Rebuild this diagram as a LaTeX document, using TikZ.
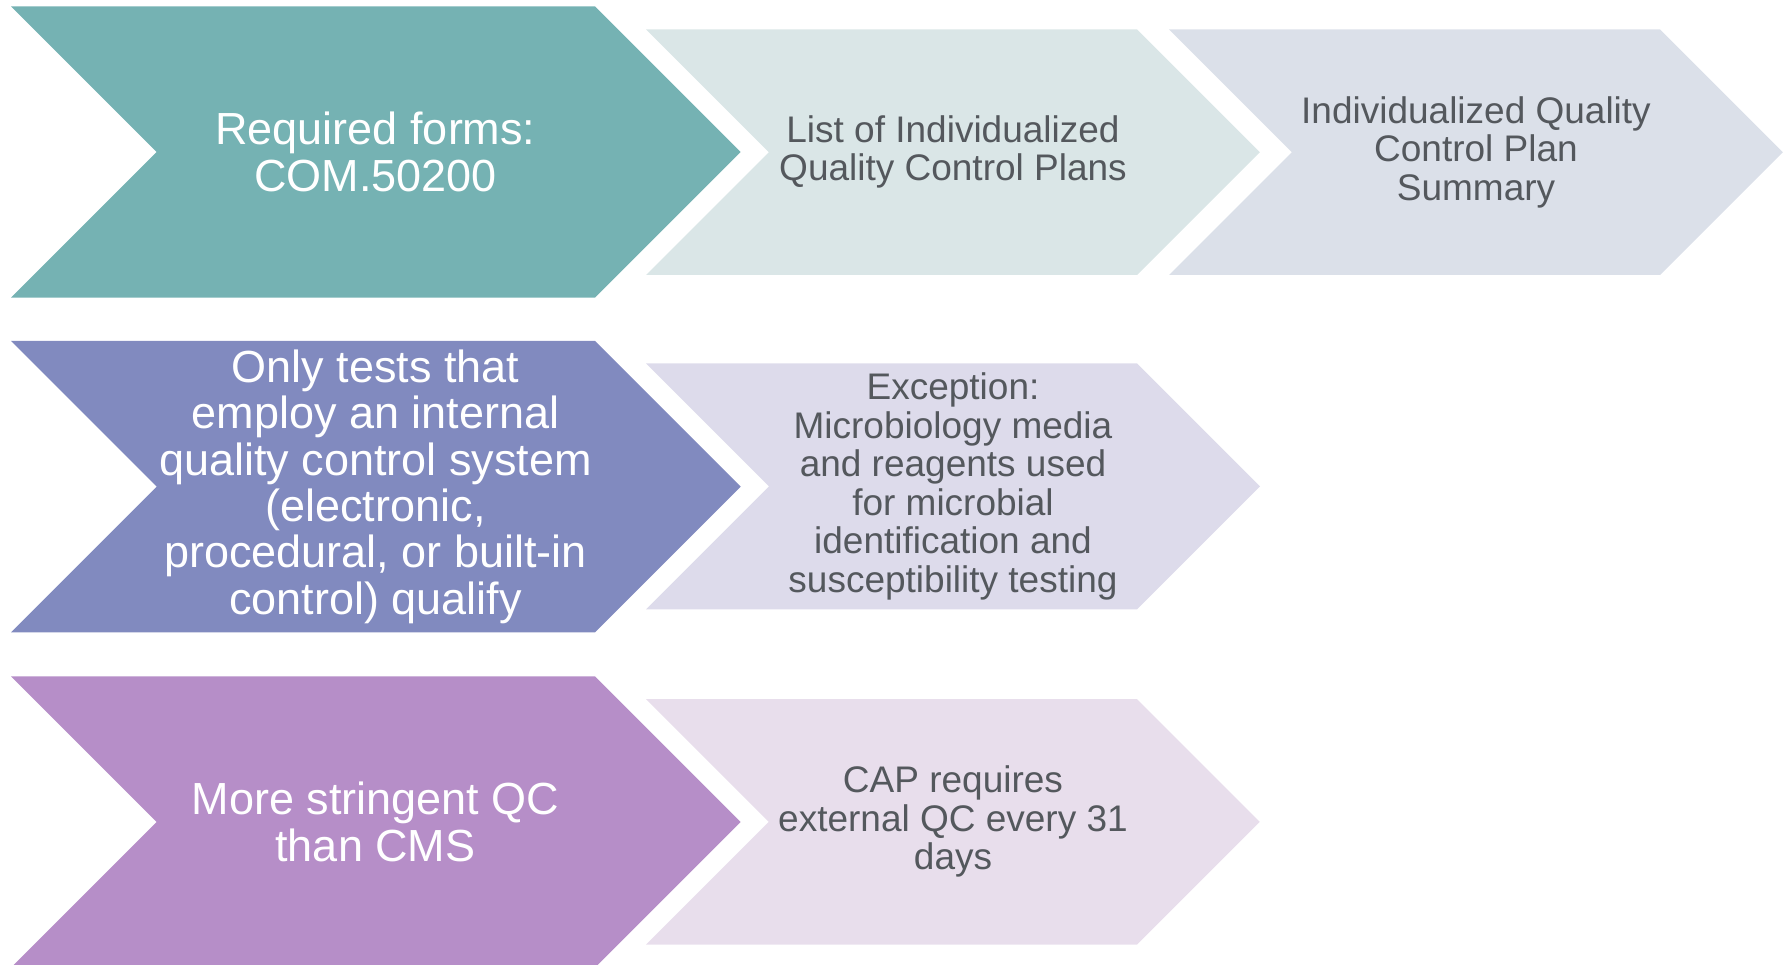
\documentclass[tikz,border=0pt]{standalone}
\usepackage{fontspec}
\setmainfont{Liberation Sans}
\definecolor{tealA}{HTML}{75B2B3}
\definecolor{tealB}{HTML}{DAE6E7}
\definecolor{tealC}{HTML}{DBE0E9}
\definecolor{blueA}{HTML}{818ABF}
\definecolor{blueB}{HTML}{DDDBEB}
\definecolor{plumA}{HTML}{B68EC8}
\definecolor{plumB}{HTML}{E8DEEC}
\definecolor{txtgray}{HTML}{54585D}
% chevron: left x, middle y, half height, right x of body, colour
\newcommand{\chev}[5]{\fill[#5] (#1,#2-#3) -- (#4,#2-#3) -- (#4+#3,#2) -- (#4,#2+#3) -- (#1,#2+#3) -- (#1+#3,#2) -- cycle;}

\begin{document}
\begin{tikzpicture}[x=1pt, y=-1pt,
  bigtxt/.style = {align=center, inner sep=0pt, text=white, font=\fontsize{45}{46.3}\selectfont},
  smalltxt/.style = {align=center, inner sep=0pt, text=txtgray, font=\fontsize{37}{38.5}\selectfont}]
\useasboundingbox (0,0) rectangle (1789,965);
% row 1
\chev{11}{152}{145.7}{595}{tealA}
\chev{646}{152.2}{122.8}{1137}{tealB}
\chev{1169}{152.2}{122.8}{1660}{tealC}
\node[bigtxt] (forms) at (375.5,152) {Required forms:\\COM.50200};
\node[smalltxt] (list) at (953,152) {List of Individualized\\Quality Control Plans};
\node[smalltxt] (summary) at (1476,152) {Individualized Quality\\Control Plan\\Summary};
% row 2
\chev{11}{486.7}{145.7}{595}{blueA}
\chev{646}{486.3}{123}{1137}{blueB}
\node[bigtxt] (tests) at (375.5,486.7) {Only tests that\\employ an internal\\quality control system\\(electronic,\\procedural, or built-in\\control) qualify};
\node[smalltxt] (except) at (953,486.3) {Exception:\\Microbiology media\\and reagents used\\for microbial\\identification and\\susceptibility testing};
% row 3
\chev{11}{822}{145.7}{595}{plumA}
\chev{646}{821.9}{122.8}{1137}{plumB}
\node[bigtxt] (strict) at (375.5,822) {More stringent QC\\than CMS};
\node[smalltxt] (cap) at (953,821.9) {CAP requires\\external QC every 31\\days};
\end{tikzpicture}
\end{document}
